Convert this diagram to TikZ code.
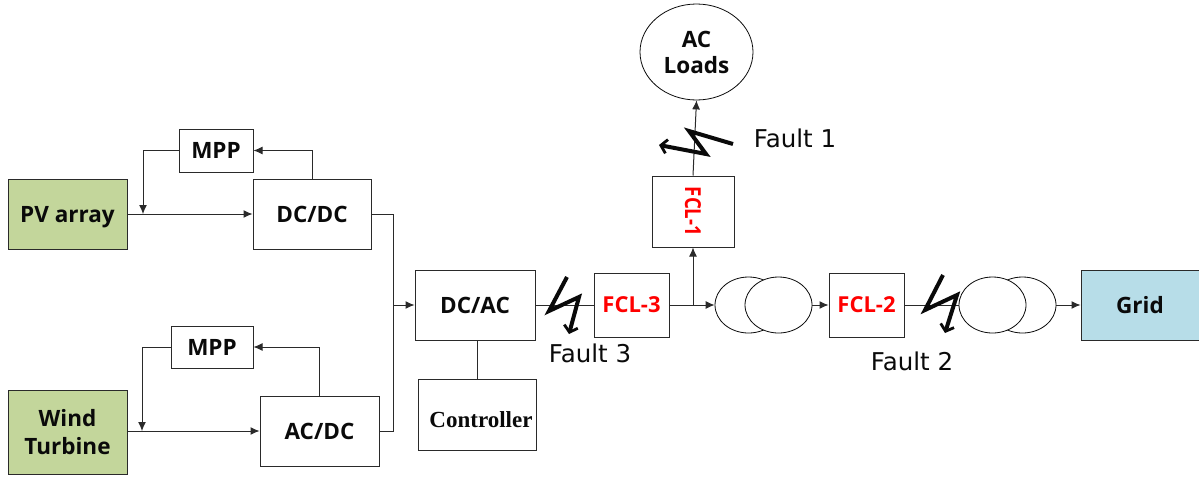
\documentclass[tikz,border=0pt]{standalone}
\usepackage{fontspec}
\setmainfont{Open Sans}
\newfontfamily\ctrlfont{Liberation Serif}
\newfontfamily\faultfont{DejaVu Sans}
\usetikzlibrary{arrows.meta,shapes.geometric}
\definecolor{ink}{HTML}{0A0A0A}
\definecolor{wireline}{HTML}{2A2A2A}
\definecolor{pvgreen}{HTML}{C3D69B}
\definecolor{gridblue}{HTML}{B7DDE8}
\definecolor{fclred}{HTML}{FF0000}
\tikzset{
  blockbox/.style={draw=wireline,line width=1pt,fill=white,inner sep=0pt,font=\fontsize{22.5}{27}\selectfont\bfseries,text=ink,align=center},
  sourcebox/.style={blockbox,fill=pvgreen},
  fclbox/.style={blockbox,text=fclred,font=\fontsize{22}{26}\selectfont\bfseries},
  coil/.style={ellipse,draw=ink,line width=0.8pt,fill=white,inner sep=0pt,minimum width=67pt,minimum height=56pt},
  wire/.style={draw=wireline,line width=1pt},
  feed/.style={wire,-{Latex[length=9pt,width=8pt]}},
  faultbolt/.style={draw=ink,line width=4pt,-{Straight Barb[length=6pt,width=14pt,line width=2.8pt]}},
  faultlabel/.style={font=\faultfont\fontsize{24.5}{29}\selectfont,text=ink}
}
\begin{document}
\begin{tikzpicture}[x=1pt,y=-1pt]
  \useasboundingbox (0,0) rectangle (1199,477);

  % sources and converters
  \node[sourcebox,minimum width=119pt,minimum height=70pt,text height=16pt,text depth=0pt] (pvarray) at (67.5,214) {PV array};
  \node[sourcebox,minimum width=119pt,minimum height=84pt] (wind) at (67.5,432) {Wind\\[1pt]Turbine};
  \node[blockbox,minimum width=118pt,minimum height=70pt] (dcdc) at (312,214) {DC/DC};
  \node[blockbox,minimum width=119pt,minimum height=70pt] (acdc) at (319.5,431) {AC/DC};
  \node[blockbox,minimum width=74pt,minimum height=43pt] (mppa) at (216,150.5) {MPP};
  \node[blockbox,minimum width=82pt,minimum height=42pt] (mppb) at (212,347) {MPP};
  \node[blockbox,minimum width=120pt,minimum height=70pt] (dcac) at (475,305) {DC/AC};
  \node[blockbox,minimum width=118pt,minimum height=71pt,font=\ctrlfont\fontsize{23}{27}\selectfont\bfseries,text height=25pt,text depth=0pt] (ctrl) at (477,414.5) {\hspace*{8pt}Controller};

  % limiters
  \node[fclbox,minimum width=75pt,minimum height=64pt] (fclc) at (631.5,305) {FCL-3};
  \node[fclbox,minimum width=75pt,minimum height=64pt] (fclb) at (866.5,305) {FCL-2};
  \node[fclbox,rotate=-90,minimum width=71pt,minimum height=82pt] (fcla) at (693,211.5) {\scalebox{.85}[1]{FCL-1}};

  % transformers, loads, grid
  \node[coil] (tra) at (748.5,305) {};
  \node[coil] (trb) at (778.5,305) {};
  \node[coil] (trd) at (1022.5,305) {};
  \node[coil] (trc) at (992.5,305) {};
  \node[ellipse,draw=ink,line width=0.8pt,inner sep=0pt,minimum width=113pt,minimum height=96pt,font=\fontsize{22.5}{26}\selectfont\bfseries,text=ink,align=center] (loads) at (696.5,52) {AC\\Loads};
  \node[blockbox,fill=gridblue,minimum width=118pt,minimum height=70pt] (grid) at (1140,305) {Grid};

  % junctions
  \coordinate (pvtap) at (143,214);
  \coordinate (windtap) at (142,431);
  \coordinate (busin) at (393,305);
  \coordinate (tee) at (693,305);

  \draw[feed] (pvarray) -- (dcdc);
  \draw[feed] (wind.east |- acdc) -- (acdc);
  \draw[feed] (dcdc.north) |- (mppa.east);
  \draw[feed] (acdc.north) |- (mppb.east);
  \draw[feed] (mppa.west) -| (pvtap);
  \draw[feed] (mppb.west) -| (windtap);
  \draw[wire] (dcdc.east) -| (busin);
  \draw[wire] (acdc.east) -| (busin);
  \draw[feed] (busin) -- (dcac.west);
  \draw[wire] (dcac.south -| ctrl.north) -- (ctrl.north);
  \draw[wire] (dcac.east) -- (fclc.west);
  \draw[feed] (fclc.east) -- (tra.west);
  \draw[feed] (tee) -- (fcla.east);
  \draw[feed] (fcla.west) -- (loads.south);
  \draw[feed] (trb.east) -- (fclb.west);
  \draw[wire] (fclb.east) -- (trc.west);
  \draw[feed] (trd.east) -- (grid.west);

  % fault marks
  \draw[faultbolt] (733,144) -- (689,131) -- (706,154) -- (659,145);
  \draw[faultbolt] (567,277) -- (549,311) -- (579,297) -- (569,334);
  \draw[faultbolt] (943,275) -- (925,310) -- (957,295) -- (945,333);
  \node[faultlabel] (faulta) at (795,138) {Fault 1};
  \node[faultlabel] (faultc) at (590,353) {Fault 3};
  \node[faultlabel] (faultb) at (912,361) {Fault 2};
\end{tikzpicture}
\end{document}
